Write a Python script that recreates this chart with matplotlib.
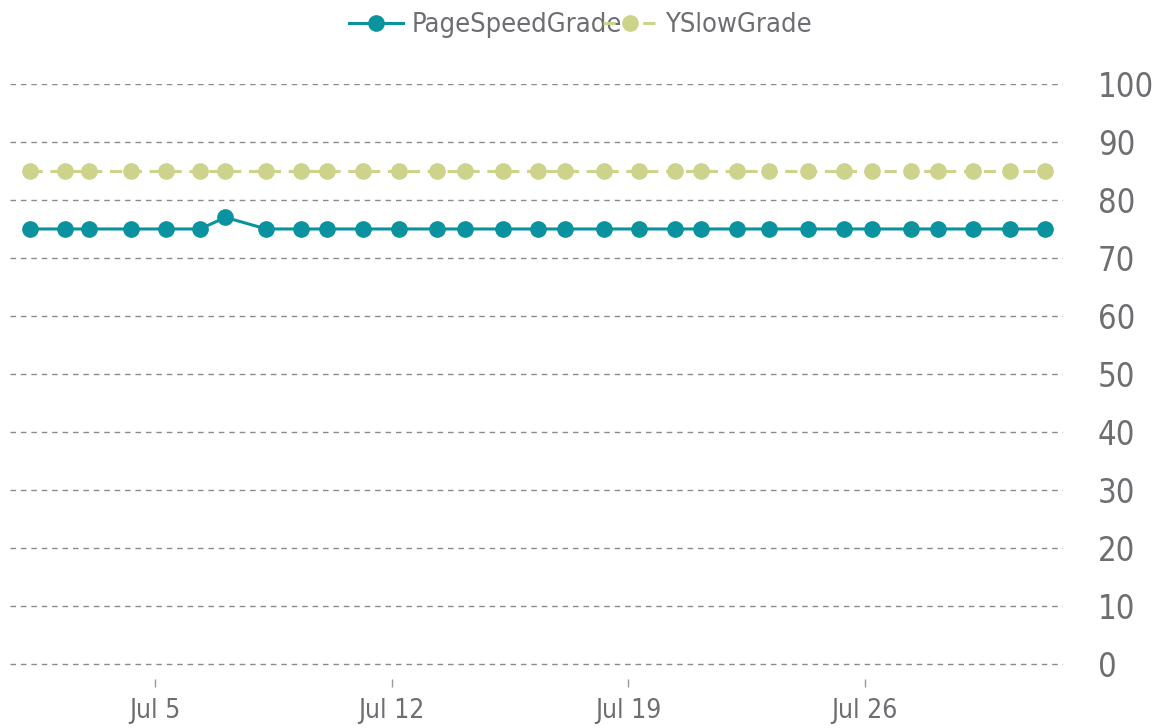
import matplotlib
matplotlib.use("Agg")
import matplotlib.pyplot as plt
import matplotlib.dates as mdates
import pandas as pd

timestamps = ["2023-07-01 07:00", "2023-07-02 08:00", "2023-07-03 01:00", "2023-07-04 07:00",
              "2023-07-05 08:00", "2023-07-06 08:00", "2023-07-07 02:00", "2023-07-08 07:00",
              "2023-07-09 08:00", "2023-07-10 02:00", "2023-07-11 04:00", "2023-07-12 05:00",
              "2023-07-13 08:00", "2023-07-14 04:00", "2023-07-15 07:00", "2023-07-16 08:00",
              "2023-07-17 03:00", "2023-07-18 07:00", "2023-07-19 08:00", "2023-07-20 09:00",
              "2023-07-21 04:00", "2023-07-22 05:00", "2023-07-23 04:00", "2023-07-24 08:00",
              "2023-07-25 09:00", "2023-07-26 05:00", "2023-07-27 09:00", "2023-07-28 04:00",
              "2023-07-29 05:00", "2023-07-30 07:00", "2023-07-31 08:00"]
pagespeed = [75, 75, 75, 75, 75, 75, 77, 75, 75, 75, 75, 75, 75, 75, 75, 75,
             75, 75, 75, 75, 75, 75, 75, 75, 75, 75, 75, 75, 75, 75, 75]
yslow = [85] * 31
yticks = [0, 10, 20, 30, 40, 50, 60, 70, 80, 90, 100]
xtick_dates = ["2023-07-05", "2023-07-12", "2023-07-19", "2023-07-26"]
xtick_labels = ["Jul 5", "Jul 12", "Jul 19", "Jul 26"]

x = pd.to_datetime(timestamps)
teal = "#0a939f"
olive = "#cdd38a"
textc = "#6d6e71"

fig = plt.figure(figsize=(11.61, 7.28), dpi=100)
ax = fig.add_axes([10/1161, 1-679/728, (1063-10)/1161, (679-84)/728])

ax.plot(x, pagespeed, color=teal, lw=2.2, marker="o", ms=11, label="PageSpeedGrade", zorder=3)
ax.plot(x, yslow, color=olive, lw=2.2, ls=(0, (4, 2.5)), marker="o", ms=11, label="YSlowGrade", zorder=3)

ax.set_ylim(-2.6, 100)
x0 = mdates.date2num(pd.Timestamp("2023-07-05")) - 145/33.8
x1 = mdates.date2num(pd.Timestamp("2023-07-05")) + 908/33.8
ax.set_xlim(x0, x1)

for v in yticks:
    ax.axhline(v, color="#8a8a8a", lw=1, ls=(0, (4, 3.5)), zorder=1)

for s in ax.spines.values():
    s.set_visible(False)

ax.yaxis.tick_right()
ax.set_yticks(yticks)
ax.set_yticklabels([str(v) for v in yticks], fontsize=23.5, color=textc, fontstretch="condensed")
ax.tick_params(axis="y", length=0, pad=25)

ax.set_xticks(pd.to_datetime(xtick_dates))
ax.set_xticklabels(xtick_labels, fontsize=19, color=textc, fontstretch="condensed")
ax.tick_params(axis="x", length=6, width=1, color="#999999", pad=8)

leg = fig.legend(loc="upper center", bbox_to_anchor=(0.5, 1.017), ncol=2, frameon=False,
                 fontsize=19.5, handlelength=2.0, columnspacing=-0.7, handletextpad=0.3)
for t in leg.get_texts():
    t.set_color(textc)
    t.set_fontstretch("condensed")

fig.savefig("out.png", dpi=100)
